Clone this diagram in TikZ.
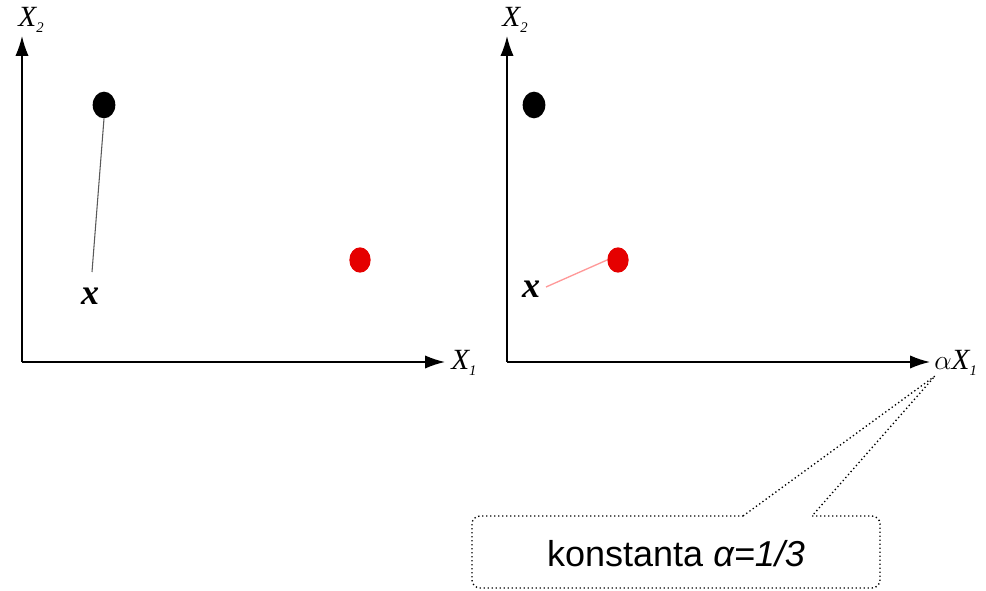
\documentclass[tikz,border=0pt]{standalone}
\usepackage{fontspec}
\setmainfont{Liberation Serif}
\newfontfamily\calloutfont{Liberation Sans}
\usetikzlibrary{arrows.meta,shapes.geometric}
\begin{document}
\begin{tikzpicture}[x=0.75pt,y=-0.75pt,
  axis/.style={line width=1.2pt,-{Latex[length=15pt,width=10pt]}},
  axlabel/.style={font=\fontsize{22}{24}\selectfont\itshape,inner sep=0pt},
  xlabel/.style={font=\fontsize{27}{28}\selectfont\bfseries\itshape,inner sep=0pt},
  blackdot/.style={ellipse,fill=black,minimum width=17pt,minimum height=20pt,inner sep=0pt},
  reddot/.style={ellipse,fill=red!90!black,minimum width=16pt,minimum height=19pt,inner sep=0pt},
  callout/.style={draw,dotted,line width=1pt}]
\useasboundingbox (0,0) rectangle (986,591);
% left axes
\coordinate (o1) at (22,362);
\coordinate (y1) at (22,36);
\coordinate (x1) at (445,362);
\draw[axis] (o1) -- (y1);
\draw[axis] (o1) -- (x1);
\node[axlabel] (lx2) at (31,20) {X\raisebox{-0.4ex}{\fontsize{11}{11}\selectfont 2}};
\node[axlabel,anchor=west] (lx1) at (451,363) {X\raisebox{-0.4ex}{\fontsize{11}{11}\selectfont 1}};
\node[blackdot] (b1) at (104,105) {};
\node[reddot] (r1) at (360,260) {};
\node[xlabel] (xa) at (90,296) {x};
\coordinate (la) at (92,272);
\draw[gray!70!black,line width=0.8pt] (b1.south) -- (la);
% right axes
\coordinate (o2) at (507,362);
\coordinate (y2) at (507,36);
\coordinate (x2) at (930,362);
\draw[axis] (o2) -- (y2);
\draw[axis] (o2) -- (x2);
\node[axlabel] (rx2) at (515,20) {X\raisebox{-0.4ex}{\fontsize{11}{11}\selectfont 2}};
\node[axlabel,anchor=west] (rx1) at (934,363) {$\alpha$X\raisebox{-0.4ex}{\fontsize{11}{11}\selectfont 1}};
\node[blackdot] (b2) at (534,105) {};
\node[reddot] (r2) at (618,260) {};
\node[xlabel] (xb) at (531,289) {x};
\coordinate (lb) at (546,287);
\draw[red!40,line width=1pt] (lb) -- (r2.west);
% callout
\coordinate (tip) at (935,376);
\coordinate (c1) at (743,516);
\coordinate (c2) at (812,516);
\draw[callout] (c1) -- (tip) -- (c2)
  -- (872,516) to[out=0,in=90] (880,524) -- (880,580) to[out=-90,in=0] (872,588)
  -- (480,588) to[out=180,in=-90] (472,580) -- (472,524) to[out=90,in=180] (480,516) -- (c1);
\node[font=\calloutfont\fontsize{27}{30}\selectfont,inner sep=0pt] (ct) at (676,554) {konstanta \textit{α=1/3}};
\end{tikzpicture}
\end{document}
